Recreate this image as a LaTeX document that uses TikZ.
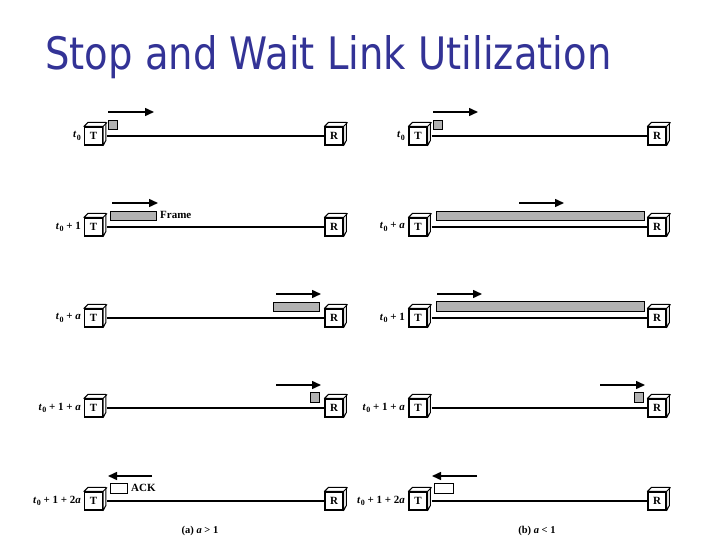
\documentclass[tikz,border=0pt]{standalone}
\usepackage{fontspec}
\setmainfont{Liberation Serif}
\newfontfamily\titlefont{DejaVu Sans}
\usetikzlibrary{arrows.meta,calc}
\definecolor{titleblue}{RGB}{51,51,150}
\definecolor{framegray}{RGB}{178,178,178}
\newcommand\cubeside[1]{%
  \draw[line width=1pt,fill=white,line join=round] (#1.north west) -- ++(4,-4) -- ++(18,0) -- ++(0,18) -- (#1.south east) -- (#1.north east) -- cycle;
  \draw[line width=1pt] (#1.north east) -- ++(4,-4);}
\newcommand\tz{\textit{t}\kern0.3pt\raisebox{-2.5pt}{\fontsize{8}{8}\selectfont 0}}
\begin{document}
\begin{tikzpicture}[x=1pt,y=-1pt,
  station/.style={draw,line width=1.2pt,fill=white,minimum size=18pt,inner sep=0pt,font=\bfseries\fontsize{11}{11}\selectfont},
  link/.style={line width=2.6pt},
  frm/.style={draw,line width=0.6pt,fill=framegray,inner sep=0pt,anchor=north west},
  ackbox/.style={draw,line width=0.6pt,fill=white,inner sep=0pt,anchor=north west},
  move/.style={line width=1.5pt,-{Triangle[length=9pt,width=8pt]}},
  tlabel/.style={anchor=east,font=\bfseries\fontsize{11}{11}\selectfont,inner sep=0pt},
  note/.style={anchor=west,font=\bfseries\fontsize{11}{11}\selectfont,inner sep=0pt},
]
\useasboundingbox (0,0) rectangle (720,540);
\node[anchor=base west,text=titleblue,inner sep=0pt] (title) at (45,70) {\resizebox{566pt}{34pt}{\titlefont Stop and Wait Link Utilization}};

\foreach \i/\y in {1/136,2/227,3/318,4/408,5/501}{
  \node[station] (LT\i) at (93.5,\y) {T};
  \node[station] (LR\i) at (334,\y) {R};
  \node[station] (RT\i) at (418,\y) {T};
  \node[station] (RR\i) at (657,\y) {R};
  \draw[link,shorten <=4pt] (LT\i) -- (LR\i);
  \draw[link,shorten <=4pt] (RT\i) -- (RR\i);
  \cubeside{LT\i}\cubeside{LR\i}\cubeside{RT\i}\cubeside{RR\i}
}

% left labels
\node[tlabel] (la1) at (81,136) {\tz};
\node[tlabel] (la2) at (81,227) {\tz\ + 1};
\node[tlabel] (la3) at (81,318) {\tz\ + \textit{a}};
\node[tlabel] (la4) at (81,408) {\tz\ + 1 + \textit{a}};
\node[tlabel] (la5) at (81,501) {\tz\ + 1 + 2\textit{a}};
% right labels
\node[tlabel] (ra1) at (405,136) {\tz};
\node[tlabel] (ra2) at (405,227) {\tz\ + \textit{a}};
\node[tlabel] (ra3) at (405,318) {\tz\ + 1};
\node[tlabel] (ra4) at (405,408) {\tz\ + 1 + \textit{a}};
\node[tlabel] (ra5) at (405,501) {\tz\ + 1 + 2\textit{a}};

% left frames
\node[frm,minimum width=9pt,minimum height=9pt] (lf1) at (108,120) {};
\draw[move] (108,112) -- (154,112);
\node[frm,minimum width=46pt,minimum height=9pt] (lf2) at (110,211) {};
\node[note] (frame) at (160,215) {Frame};
\draw[move] (112,203) -- (158,203);
\node[frm,minimum width=46pt,minimum height=9pt] (lf3) at (273,302) {};
\draw[move] (276,294) -- (321,294);
\node[frm,minimum width=9pt,minimum height=10pt] (lf4) at (310,392) {};
\draw[move] (276,385) -- (321,385);
\node[ackbox,minimum width=17pt,minimum height=10pt] (lf5) at (110,483) {};
\node[note] (ack) at (131,488) {ACK};
\draw[move] (152,476) -- (108,476);
\node[font=\bfseries\fontsize{10.5}{10.5}\selectfont,inner sep=0pt] (capa) at (200,531) {(a) \textit{a} > 1};

% right frames
\node[frm,minimum width=9pt,minimum height=9pt] (rf1) at (433,120) {};
\draw[move] (433,112) -- (478,112);
\node[frm,minimum width=208pt,minimum height=9pt] (rf2) at (436,211) {};
\draw[move] (519,203) -- (564,203);
\node[frm,minimum width=208pt,minimum height=10pt] (rf3) at (436,301) {};
\draw[move] (437,294) -- (482,294);
\node[frm,minimum width=9pt,minimum height=10pt] (rf4) at (634,392) {};
\draw[move] (600,385) -- (645,385);
\node[ackbox,minimum width=19pt,minimum height=10pt] (rf5) at (434,483) {};
\draw[move] (477,476) -- (432,476);
\node[font=\bfseries\fontsize{10.5}{10.5}\selectfont,inner sep=0pt] (capb) at (537,531) {(b) \textit{a} < 1};
\end{tikzpicture}
\end{document}
